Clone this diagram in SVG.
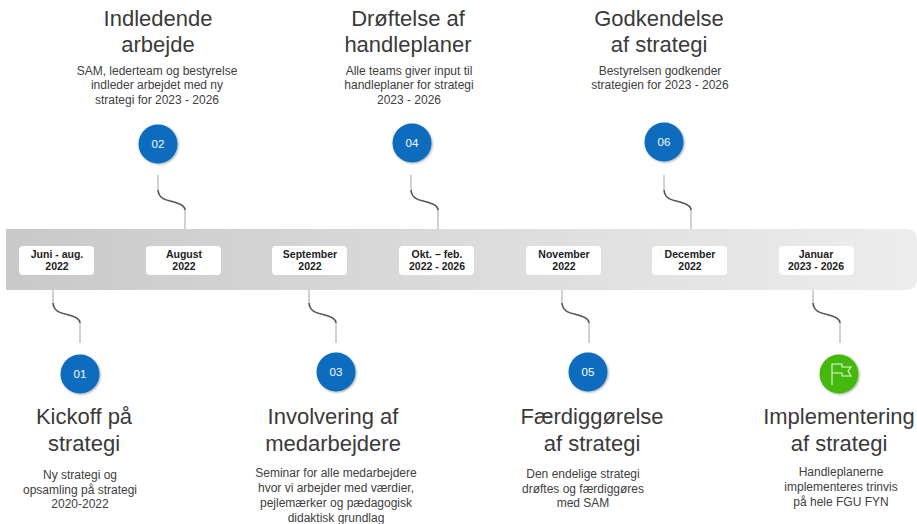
<svg xmlns="http://www.w3.org/2000/svg" width="917" height="524" viewBox="0 0 917 524">
<defs>
<linearGradient id="band" x1="0" y1="0" x2="1" y2="0"><stop offset="0" stop-color="#c9c9c9"/><stop offset="1" stop-color="#ededed"/></linearGradient>
<filter id="sh" x="-20%" y="-20%" width="140%" height="140%"><feDropShadow dx="1" dy="1" stdDeviation="1" flood-color="#000" flood-opacity=".35"/></filter>
</defs>
<style>
text{font-family:"Liberation Sans",Arial,sans-serif;text-anchor:middle}
.h{font-size:22px;fill:#3a3a3a}
.b{font-size:12px;fill:#404040}
.d{font-size:10.5px;font-weight:bold;fill:#222}
.n{font-size:11.5px;fill:#fff}
.c{fill:#0a6cbd;filter:url(#sh)}
.p{fill:#fff}
.w{fill:none;stroke:#a5a5a5;stroke-width:1}
.k{fill:none;stroke:#555;stroke-width:1.6}
</style>
<path d="M6 229H906Q917 229 917 240V279Q917 290 906 290H6Z" fill="url(#band)"/>
<g id="connectors">
<g id="cu"><path class="w" d="M158 175V190M185 210V229"/><path class="k" d="M158 190C159 202 172 200 177 203C183 205 185 207 185 210"/></g>
<use href="#cu" x="253"/><use href="#cu" x="506"/>
<g id="cd"><path class="w" d="M53 290V303M80 323V343"/><path class="k" d="M53 303C54 315 67 313 72 316C78 318 80 320 80 323"/></g>
<use href="#cd" x="256"/><use href="#cd" x="509"/><use href="#cd" x="760"/>
</g>
<g id="date1"><rect class="p" x="19" y="246" width="75" height="29" rx="4"/><text class="d" x="57" y="258">Juni - aug.</text><text class="d" x="57" y="270">2022</text></g>
<g id="date2"><rect class="p" x="146" y="246" width="75" height="29" rx="4"/><text class="d" x="184" y="258">August</text><text class="d" x="184" y="270">2022</text></g>
<g id="date3"><rect class="p" x="272" y="246" width="75" height="29" rx="4"/><text class="d" x="310" y="258">September</text><text class="d" x="310" y="270">2022</text></g>
<g id="date4"><rect class="p" x="399" y="246" width="75" height="29" rx="4"/><text class="d" x="437" y="258">Okt. – feb.</text><text class="d" x="437" y="270">2022 - 2026</text></g>
<g id="date5"><rect class="p" x="526" y="246" width="75" height="29" rx="4"/><text class="d" x="564" y="258">November</text><text class="d" x="564" y="270">2022</text></g>
<g id="date6"><rect class="p" x="652" y="246" width="75" height="29" rx="4"/><text class="d" x="690" y="258">December</text><text class="d" x="690" y="270">2022</text></g>
<g id="date7"><rect class="p" x="779" y="246" width="75" height="29" rx="4"/><text class="d" x="816" y="258">Januar</text><text class="d" x="816" y="270">2023 - 2026</text></g>
<g id="step1"><circle class="c" cx="80" cy="374" r="19.5"/><text class="n" x="80" y="378">01</text>
<text class="h" x="84" y="424">Kickoff på</text><text class="h" x="84" y="451">strategi</text>
<text class="b" x="80" y="479">Ny strategi og</text><text class="b" x="80" y="494">opsamling på strategi</text><text class="b" x="80" y="508">2020-2022</text></g>
<g id="step2"><circle class="c" cx="158" cy="144" r="19.5"/><text class="n" x="158" y="148">02</text>
<text class="h" x="158" y="26">Indledende</text><text class="h" x="158" y="52">arbejde</text>
<text class="b" x="157" y="75">SAM, lederteam og bestyrelse</text><text class="b" x="157" y="89">indleder arbejdet med ny</text><text class="b" x="157" y="104">strategi for 2023 - 2026</text></g>
<g id="step3"><circle class="c" cx="336" cy="372" r="19.5"/><text class="n" x="336" y="376">03</text>
<text class="h" x="333" y="424">Involvering af</text><text class="h" x="333" y="451">medarbejdere</text>
<text class="b" x="336" y="477">Seminar for alle medarbejdere</text><text class="b" x="336" y="492">hvor vi arbejder med værdier,</text><text class="b" x="336" y="507">pejlemærker og pædagogisk</text><text class="b" x="336" y="522">didaktisk grundlag</text></g>
<g id="step4"><circle class="c" cx="412" cy="143" r="19.5"/><text class="n" x="412" y="147">04</text>
<text class="h" x="408" y="26">Drøftelse af</text><text class="h" x="408" y="52">handleplaner</text>
<text class="b" x="409" y="75">Alle teams giver input til</text><text class="b" x="409" y="89">handleplaner for strategi</text><text class="b" x="409" y="104">2023 - 2026</text></g>
<g id="step5"><circle class="c" cx="588" cy="372" r="19.5"/><text class="n" x="588" y="376">05</text>
<text class="h" x="592" y="424">Færdiggørelse</text><text class="h" x="592" y="451">af strategi</text>
<text class="b" x="583" y="478">Den endelige strategi</text><text class="b" x="583" y="493">drøftes og færdiggøres</text><text class="b" x="583" y="507">med SAM</text></g>
<g id="step6"><circle class="c" cx="664" cy="142" r="19.5"/><text class="n" x="664" y="146">06</text>
<text class="h" x="659" y="26">Godkendelse</text><text class="h" x="659" y="52">af strategi</text>
<text class="b" x="660" y="75">Bestyrelsen godkender</text><text class="b" x="660" y="89">strategien for 2023 - 2026</text></g>
<g id="step7"><circle cx="839" cy="374" r="19.5" fill="#44b80f" filter="url(#sh)"/>
<path d="M832 385V364H842V367H851L848 371L851 376H842V373H832" fill="none" stroke="#e8f5e0" stroke-width="1.1"/>
<text class="h" x="839" y="424">Implementering</text><text class="h" x="839" y="451">af strategi</text>
<text class="b" x="841" y="476">Handleplanerne</text><text class="b" x="841" y="491">implementeres trinvis</text><text class="b" x="841" y="506">på hele FGU FYN</text></g>
</svg>
